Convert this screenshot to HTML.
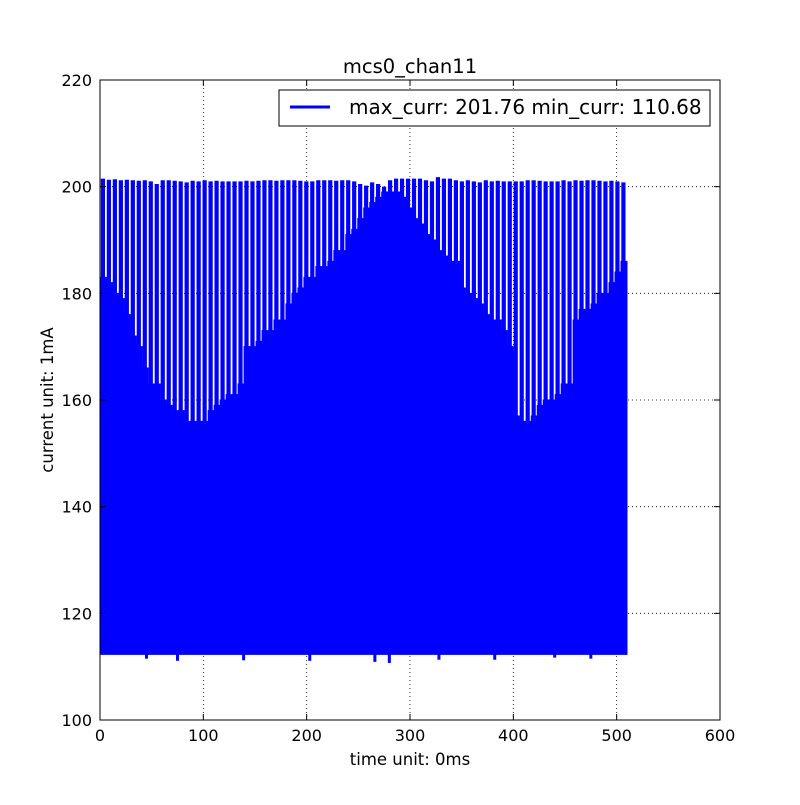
<!DOCTYPE html>
<html><head><meta charset="utf-8"><style>
body{margin:0;background:#fff;width:800px;height:800px;overflow:hidden}
svg{font-family:"DejaVu Sans","Liberation Sans",sans-serif}
</style></head><body>
<svg id="chart" width="800" height="800" xmlns="http://www.w3.org/2000/svg">
<rect x="0" y="0" width="800" height="800" fill="#fff"/>
<g id="grid"></g>
<g id="series"></g>
<rect x="100" y="80" width="620" height="640" fill="none" stroke="#000" stroke-width="1"/>
<g id="ticks"></g>
<text x="410" y="73" text-anchor="middle" font-size="19.5">mcs0_chan11</text>
<text x="410" y="765" text-anchor="middle" font-size="16.5">time unit: 0ms</text>
<text transform="translate(53,400) rotate(-90)" text-anchor="middle" font-size="16.5">current unit: 1mA</text>
<g>
<rect x="279" y="90" width="431" height="36" fill="#fff" stroke="#000"/>
<line x1="290" y1="107" x2="330" y2="107" stroke="#0000ff" stroke-width="3"/>
<text x="349" y="114" font-size="20">max_curr: 201.76 min_curr: 110.68</text>
</g>
</svg>
<script>
const xTicks=[0,100,200,300,400,500,600];
const yTicks=[100,120,140,160,180,200,220];
const levels=[183,182,180,179,176,172,170,166,163,163,
160,159,158,158,156,156,156,156,158,159,
160,161,161,163,170,170,171,173,173,175,
175,178,180,181,183,183,185,185,186,188,
188,191,192,194,196,197,198,199,199,199,
198,196,194,193,191,190,188,187,186,186,
181,180,179,178,176,175,175,173,170,157,
156,156,157,159,160,160,161,163,163,175,
177,177,178,180,180,182,184,186];
const peaks=[201.5,201.3,201.4,201.2,201.3,201.2,201.1,201.2,201,200.5,
201.2,201.2,201.1,201,200.8,201.1,201,201.2,201,201.1,
201,201,201,201,201.1,201,201.1,201.2,201.2,201.1,
201.2,201.2,201.2,201.1,201,201,201.2,201.2,201.2,201.1,
201.2,201.2,201,200.5,200.2,200.8,200.5,200,201.2,201.5,
201.5,201.5,201.5,201.5,201.2,201,201.8,201.5,201.5,201.2,
201,201.2,201,200.8,201.2,201,201.1,201,201,201,
201,201.2,201.2,201.1,201,201,201,201.2,201,201.2,
201.1,201.2,201.2,201.1,201,201.1,201,200.8];
const baseMin=112.3;
const dipX=[45,75,139,203,266,280,328,382,440,475];
const dipY=[111.5,111.1,111.2,111.1,110.9,110.7,111.3,111.3,111.7,111.5];
const xStart=0.5, xEnd=510;
const step=(xEnd-xStart)/levels.length;
const X=v=>100+v*620/600, Y=v=>720-(v-100)*640/120;
const NS="http://www.w3.org/2000/svg";
function mk(tag,attrs,parent){const e=document.createElementNS(NS,tag);for(const k in attrs)e.setAttribute(k,attrs[k]);parent.appendChild(e);return e;}
const grid=document.getElementById('grid'),ticks=document.getElementById('ticks'),ser=document.getElementById('series');
xTicks.forEach(t=>{
 if(t>0&&t<600){const g=mk('line',{x1:X(t),x2:X(t),y1:80,y2:720,stroke:'#000','stroke-dasharray':'1,3','stroke-width':0.8},grid);
 
 }
 mk('line',{x1:X(t),x2:X(t),y1:720,y2:714,stroke:'#000'},ticks);
 mk('line',{x1:X(t),x2:X(t),y1:80,y2:86,stroke:'#000'},ticks);
 const l=mk('text',{x:X(t),y:741,'text-anchor':'middle','font-size':16},ticks);l.textContent=t;
 
 
});
yTicks.forEach(t=>{
 if(t>100&&t<220){const g=mk('line',{x1:100,x2:720,y1:Y(t),y2:Y(t),stroke:'#000','stroke-dasharray':'1,3','stroke-width':0.8},grid);
 
 }
 mk('line',{x1:100,x2:106,y1:Y(t),y2:Y(t),stroke:'#000'},ticks);
 mk('line',{x1:714,x2:720,y1:Y(t),y2:Y(t),stroke:'#000'},ticks);
 const l=mk('text',{x:92,y:Y(t)+6,'text-anchor':'end','font-size':16},ticks);l.textContent=t;
 
 
});
let d='';
levels.forEach((lv,i)=>{
 const x0=X(xStart+i*step), x1=X(xStart+(i+1)*step);
 d+=`M${x0} ${Y(baseMin)}L${x0} ${Y(lv)}L${x1} ${Y(lv)}L${x1} ${Y(baseMin)}Z`;
});
const fill=mk('path',{d:d,fill:'#0000ff',stroke:'#0000ff','stroke-width':1},ser);


peaks.forEach((p,i)=>{
 const x=X(xStart+(i+0.4)*step);
 const s=mk('line',{x1:x,x2:x,y1:Y(baseMin),y2:Y(p),stroke:'#0000ff','stroke-width':4.2},ser);
 
 
});
dipX.forEach((dx,i)=>{
 const s=mk('line',{x1:X(dx),x2:X(dx),y1:Y(baseMin),y2:Y(dipY[i]),stroke:'#0000ff','stroke-width':3},ser);
 
 
});
</script>
</body></html>
